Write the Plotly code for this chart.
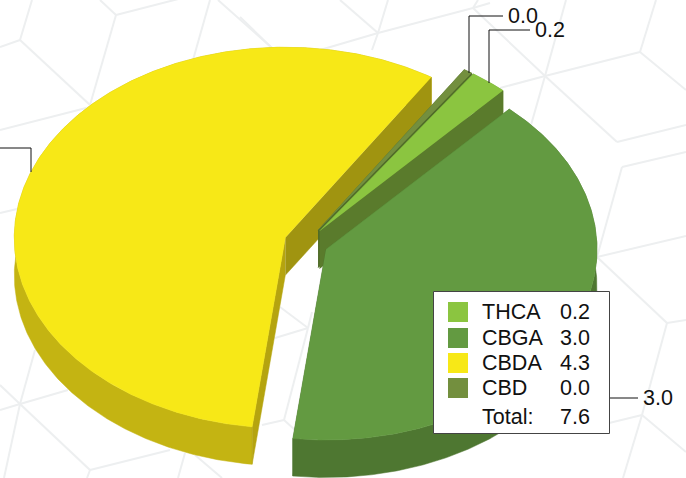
import math
import plotly.graph_objects as go

# ---- data ----
categories = ["THCA", "CBGA", "CBDA", "CBD"]
values = [0.17, 3.05, 4.34, 0.04]
value_labels = ["0.2", "3.0", "4.3", "0.0"]
total_label = "7.6"

# ---- style ----
top_colors = ["#8BC540", "#639A41", "#F7E817", "#738F3E"]
rim_colors = ["#6F9E33", "#4E7731", "#C4B412", "#5C7332"]
start_face = ["#5A7B2C", "#4E7731", "#B5A40F", "#4F6A28"]
end_face = ["#5A7B2C", "#4E7731", "#A09410", "#4F6A28"]
draw_order = [2, 3, 0, 1]

CX, CY, RX, RY = 306.0, 243.0, 271.0, 190.5
DEPTH, EXPLODE, START = 37.5, 22.0, 55.5
FONT = "Liberation Sans, Arial, sans-serif"
FS = 21.5

# decorative background pattern
pattern = [
    ((378,33),(388,0)),((378,33),(372,50)),((378,33),(320,50)),((378,33),(340,0)),((378,33),(473,8)),
    ((473,8),(478,0)),((473,8),(545,76)),((473,8),(490,3)),
    ((545,76),(566,0)),((545,76),(531,125)),((545,76),(640,52)),((545,76),(500,88)),((545,76),(617,142)),
    ((617,142),(686,125)),((640,52),(656,0)),((640,52),(686,90)),
    ((622,167),(686,152)),((622,167),(597,257)),((597,257),(686,236)),((597,257),(667,323)),
    ((667,323),(686,320)),((667,323),(642,415)),((642,415),(605,424)),((642,415),(686,452)),((642,415),(623,478)),
    ((20,404),(35,350)),((20,404),(0,385)),((20,404),(68,390)),((20,404),(0,410)),((20,404),(90,470)),((20,404),(4,478)),
    ((90,470),(170,450)),((90,470),(87,478)),((185,453),(178,478)),((195,455),(222,478)),
    ((280,307),(308,328)),((308,328),(275,338)),((308,328),(284,420)),((308,328),(312,312)),
    ((284,420),(262,425)),((284,420),(295,430)),
    ((0,47),(20,40)),((20,40),(32,0)),((20,40),(90,105)),((90,105),(116,15)),((116,15),(100,0)),((116,15),(190,-4)),
    ((0,130),(90,107)),((210,0),(193,60)),((218,0),(272,48)),((240,17),(272,48)),((0,213),(17,209)),
]

leaders = [
    [(469, 73), (469, 16), (503, 16)],
    [(489, 83), (489, 30), (530, 30)],
    [(609, 398), (638, 398)],
    [(0, 148), (31, 148), (31, 172)],
]
leader_text = [(3, 523, 16), (0, 550, 30), (1, 657.5, 398)]
# ---- geometry from values ----
fig = go.Figure()

px_, py_ = [], []
for a, b in pattern:
    px_ += [a[0], b[0], None]
    py_ += [a[1], b[1], None]
fig.add_trace(go.Scatter(x=px_, y=py_, mode="lines", hoverinfo="skip",
                         line=dict(color="#EDEFF0", width=2)))


def poly(xs, ys, color, line=0, lcolor=None):
    fig.add_trace(go.Scatter(x=xs, y=ys, mode="lines", fill="toself", fillcolor=color,
                             hoverinfo="skip",
                             line=dict(color=lcolor or color, width=line or 0.5)))


total = sum(values)
angles = []
t = START
for v in values:
    angles.append((t, t - v / total * 360))
    t -= v / total * 360

for i in draw_order:
    a0, a1 = angles[i]
    mid = math.radians((a0 + a1) / 2)
    ox = CX + EXPLODE * math.cos(mid)
    oy = CY - EXPLODE * (RY / RX) * math.sin(mid)
    n = max(4, int(abs(a0 - a1) * 2))
    arc = [math.radians(a0 + (a1 - a0) * k / n) for k in range(n + 1)]
    ax = [ox + RX * math.cos(a) for a in arc]
    ay = [oy - RY * math.sin(a) for a in arc]
    # outer rim
    poly(ax + ax[::-1], ay + [y + DEPTH for y in ay[::-1]], rim_colors[i])
    # radial faces
    poly([ox, ax[0], ax[0], ox], [oy, ay[0], ay[0] + DEPTH, oy + DEPTH], start_face[i])
    poly([ox, ax[-1], ax[-1], ox], [oy, ay[-1], ay[-1] + DEPTH, oy + DEPTH], end_face[i])
    # top
    poly([ox] + ax, [oy] + ay, top_colors[i])

for pts in leaders:
    fig.add_trace(go.Scatter(x=[p[0] for p in pts], y=[p[1] for p in pts], mode="lines",
                             hoverinfo="skip", line=dict(color="#111111", width=1)))

annotations = []


def txt(s, x, y, anchor="left"):
    annotations.append(dict(x=x, y=y, text=s, showarrow=False, xanchor=anchor, yanchor="middle",
                            font=dict(family=FONT, size=FS, color="#111111"), xref="x", yref="y"))


for idx, x, y in leader_text:
    txt(value_labels[idx], x, y, "center")

# legend box
shapes = [dict(type="rect", x0=433.5, x1=609.5, y0=291.5, y1=433.5, fillcolor="white",
               line=dict(color="#444444", width=1), layer="above")]
rows = [312, 338, 363, 388]
for i, (c, v, y) in enumerate(zip(categories, value_labels, rows)):
    shapes.append(dict(type="rect", x0=448, x1=468, y0=y - 10, y1=y + 10, fillcolor=top_colors[i],
                       line=dict(width=0), layer="above"))
    txt(c, 479.5, y)
    txt(v, 558, y)
txt("Total:", 479.5, 417)
txt(total_label, 558, 417)

fig.update_layout(
    width=686, height=478, margin=dict(l=0, r=0, t=0, b=0), showlegend=False,
    paper_bgcolor="white", plot_bgcolor="white",
    xaxis=dict(range=[0, 686], visible=False, fixedrange=True),
    yaxis=dict(range=[478, 0], visible=False, fixedrange=True),
    shapes=shapes, annotations=annotations,
)
fig.write_html("out.html", config={"displayModeBar": False},
               post_script="document.body.style.margin='0';document.body.style.overflow='hidden';")
